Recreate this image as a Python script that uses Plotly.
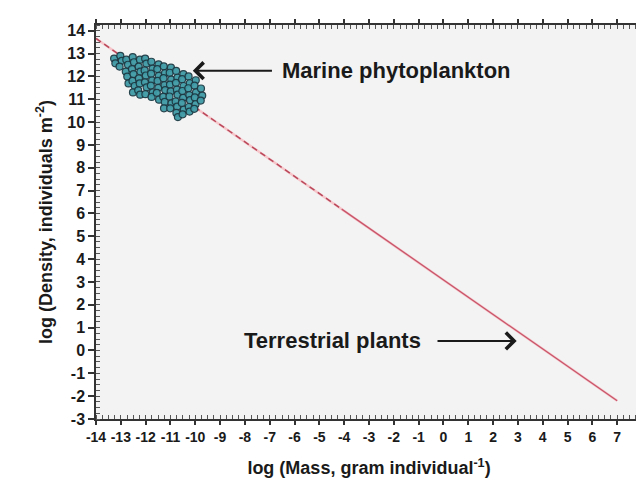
import plotly.graph_objects as go

# Marine phytoplankton cluster (log mass, log density)
phyto_x = [
    -13.27, -13.22,
    -13.02, -12.96, -13.05,
    -12.78, -12.71, -12.80, -12.74, -12.69,
    -12.52, -12.47, -12.55, -12.49, -12.53, -12.44, -12.51,
    -12.23, -12.28, -12.21, -12.27, -12.24, -12.30, -12.22,
    -12.02, -11.97, -12.04, -11.99, -12.03, -11.96, -12.01,
    -11.77, -11.72, -11.78, -11.74, -11.79, -11.71, -11.76,
    -11.48, -11.53, -11.47, -11.52, -11.49, -11.55, -11.46,
    -11.27, -11.22, -11.28, -11.24, -11.21, -11.29, -11.23, -11.26,
    -10.98, -11.03, -10.97, -11.02, -10.99, -11.04, -10.96, -11.01,
    -10.77, -10.72, -10.78, -10.74, -10.71, -10.79, -10.73, -10.76, -10.70,
    -10.48, -10.53, -10.47, -10.52, -10.49, -10.54, -10.46, -10.51,
    -10.27, -10.22, -10.28, -10.24, -10.21, -10.26, -10.23,
    -9.98, -10.03, -9.97, -10.02, -9.99, -10.04,
    -9.77, -9.72, -9.78,
]
phyto_y = [
    12.78, 12.57,
    12.90, 12.68, 12.43,
    12.73, 12.51, 12.21, 11.99, 11.69,
    12.84, 12.62, 12.32, 12.10, 11.80, 11.58, 11.30,
    12.73, 12.43, 12.21, 11.91, 11.69, 11.39, 11.20,
    12.78, 12.56, 12.26, 12.04, 11.74, 11.52, 11.22,
    12.64, 12.34, 12.12, 11.82, 11.60, 11.30, 11.10,
    12.53, 12.32, 12.02, 11.80, 11.50, 11.28, 10.98,
    12.44, 12.14, 11.92, 11.62, 11.40, 11.10, 10.88, 10.60,
    12.38, 12.16, 11.86, 11.64, 11.34, 11.12, 10.82, 10.60,
    12.24, 11.94, 11.72, 11.42, 11.20, 10.90, 10.68, 10.40, 10.22,
    12.10, 11.88, 11.58, 11.36, 11.06, 10.84, 10.54, 10.34,
    12.00, 11.70, 11.48, 11.18, 10.96, 10.66, 10.46,
    11.83, 11.60, 11.30, 11.08, 10.78, 10.58,
    11.47, 11.16, 10.94,
]

# -3/4 thinning line: dashed part and solid part
dash_x = [-14.0, -4.1]
dash_y = [13.66, 6.19]
solid_x = [-4.1, 7.0]
solid_y = [6.19, -2.2]

x_ticks = list(range(-14, 9))
y_ticks = list(range(-3, 15))

fig = go.Figure()

# light halo for whole line
fig.add_trace(go.Scatter(x=dash_x + solid_x[1:], y=dash_y + solid_y[1:], mode="lines",
                         line=dict(color="#f6c6cb", width=2.5), hoverinfo="skip", showlegend=False))
fig.add_trace(go.Scatter(x=dash_x, y=dash_y, mode="lines",
                         line=dict(color="#b8485a", width=1.5, dash="6px,4px"), showlegend=False))
fig.add_trace(go.Scatter(x=solid_x, y=solid_y, mode="lines",
                         line=dict(color="#c8556a", width=1.3), showlegend=False))

fig.add_trace(go.Scatter(x=phyto_x, y=phyto_y, mode="markers",
                         marker=dict(size=7, color="#3f9aa6", opacity=0.95,
                                     line=dict(color="#1d3a44", width=1.2)),
                         showlegend=False))

font_fam = "Liberation Sans, Arial, sans-serif"

fig.add_annotation(x=-6.6, y=12.25, xref="x", yref="y", text="<b>Marine phytoplankton</b>",
                   showarrow=False, xanchor="left", yanchor="middle",
                   font=dict(family=font_fam, size=22, color="#1a1a1a"))
fig.add_annotation(x=-10.1, y=12.25, ax=-6.85, ay=12.25, xref="x", yref="y", axref="x", ayref="y",
                   text="", showarrow=True, arrowhead=4, arrowsize=1.6, arrowwidth=2,
                   arrowcolor="#1a1a1a")
fig.add_annotation(x=-8.1, y=0.42, xref="x", yref="y", text="<b>Terrestrial plants</b>",
                   showarrow=False, xanchor="left", yanchor="middle",
                   font=dict(family=font_fam, size=22, color="#1a1a1a"))
fig.add_annotation(x=2.95, y=0.42, ax=-0.3, ay=0.42, xref="x", yref="y", axref="x", ayref="y",
                   text="", showarrow=True, arrowhead=4, arrowsize=1.6, arrowwidth=2,
                   arrowcolor="#1a1a1a")

axis_common = dict(showline=True, linecolor="#333333", linewidth=1.5, mirror="allticks",
                   ticks="outside", ticklen=6, tickwidth=1.5, tickcolor="#333333",
                   showgrid=False, zeroline=False,
                   minor=dict(ticks="inside", ticklen=4, tickwidth=1, tickcolor="#555555", dtick=0.25),
                   tickfont=dict(family=font_fam, size=16, color="#1a1a1a"))

fig.update_xaxes(range=[-14, 8], tickvals=x_ticks, ticktext=[f"<b>{v}</b>" for v in x_ticks],
                 tickangle=0,
                 title=dict(text="<b>log (Mass, gram individual<sup>-1</sup>)</b>",
                            font=dict(family=font_fam, size=18, color="#1a1a1a"), standoff=18),
                 **axis_common)
fig.update_xaxes(tickfont=dict(size=14), ticklen=4)
fig.update_yaxes(range=[-3, 14.25], tickvals=y_ticks, ticktext=[f"<b>{v}</b>" for v in y_ticks],
                 title=dict(text="<b>log (Density, individuals m<sup>-2</sup>)</b>",
                            font=dict(family=font_fam, size=18, color="#1a1a1a"), standoff=10),
                 **axis_common)

fig.update_layout(width=644, height=489, margin=dict(l=88, r=2, t=17, b=78),
                  plot_bgcolor="#f3f3f3", paper_bgcolor="#ffffff",
                  font=dict(family=font_fam))

fig.write_html("out.html")
